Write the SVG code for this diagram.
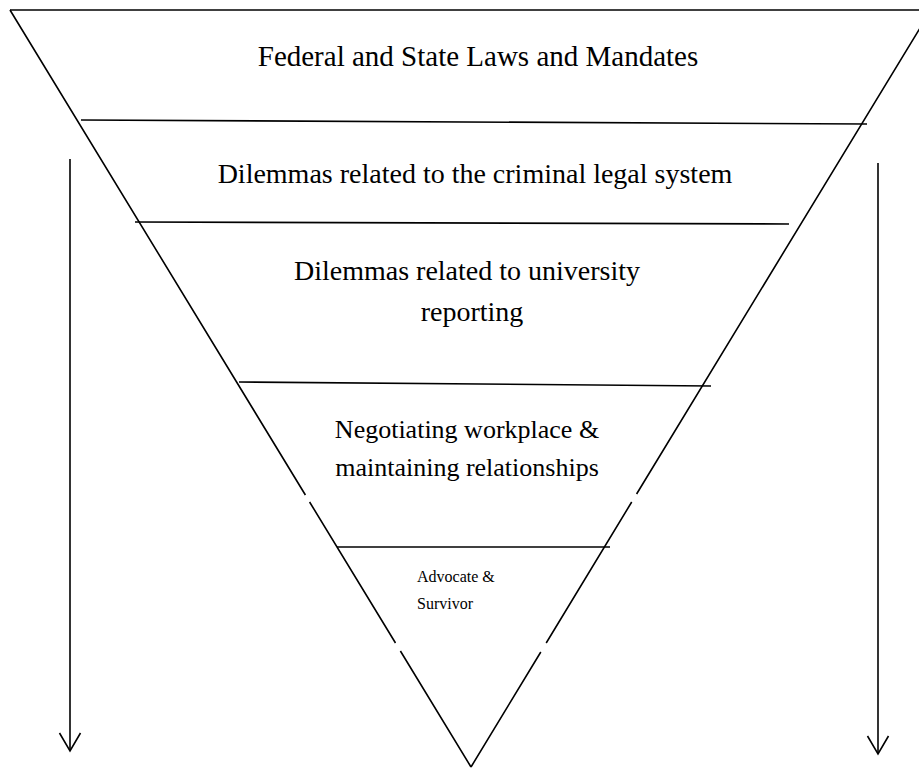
<svg xmlns="http://www.w3.org/2000/svg" width="919" height="768" viewBox="0 0 919 768">
  <style>
    .ln { stroke: #000; stroke-width: 1.6; fill: none; }
    .t { font-family: "Liberation Serif", "Times New Roman", serif; fill: #000; }
    .big { font-size: 28px; text-anchor: middle; }
    .mid { font-size: 26px; text-anchor: middle; }
    .small { font-size: 16px; }
  </style>
  <defs>
    <!-- open chevron head, drawn along +x so orient="auto" points it down the line -->
    <marker id="openHead" markerWidth="24" markerHeight="24" refX="20" refY="12" markerUnits="userSpaceOnUse" orient="auto" viewBox="0 0 24 24">
      <path d="M2 1.5 L20 12 L2 22.5" fill="none" stroke="#000" stroke-width="1.6"/>
    </marker>
  </defs>

  <rect width="919" height="768" fill="#fff"/>

  <!-- inverted triangle outline, sides broken in two places each -->
  <g id="funnel">
    <path class="ln" d="M931 10 L10 10"/>
    <path class="ln" d="M10 10 L305.4 495 M309.6 502 L395.5 643 M400.4 651 L471 767"/>
    <path class="ln" d="M931 10 L636.6 494 M631.7 502 L546.2 643 M540.8 652 L471 767"/>
  </g>

  <!-- tier dividers -->
  <g id="dividers">
    <line class="ln" x1="81" y1="120" x2="867" y2="124"/>
    <line class="ln" x1="135" y1="222" x2="789" y2="224"/>
    <line class="ln" x1="239" y1="382" x2="711" y2="386"/>
    <line class="ln" x1="337" y1="547" x2="610" y2="547"/>
  </g>

  <g id="tier-laws">
    <text class="t big" x="478" y="66" style="font-size:29px">Federal and State Laws and Mandates</text>
  </g>
  <g id="tier-criminal">
    <text class="t big" x="475" y="183">Dilemmas related to the criminal legal system</text>
  </g>
  <g id="tier-university">
    <text class="t big" x="467" y="280">Dilemmas related to university</text>
    <text class="t big" x="472" y="321">reporting</text>
  </g>
  <g id="tier-workplace">
    <text class="t mid" x="467" y="438">Negotiating workplace &amp;</text>
    <text class="t mid" x="467" y="476">maintaining relationships</text>
  </g>
  <g id="tier-core">
    <text class="t small" x="417" y="582">Advocate &amp;</text>
    <text class="t small" x="417" y="609">Survivor</text>
  </g>

  <!-- side arrows -->
  <g id="connectors">
    <line class="ln" x1="70" y1="159" x2="70" y2="751" marker-end="url(#openHead)"/>
    <line class="ln" x1="878" y1="163" x2="878" y2="754" marker-end="url(#openHead)"/>
  </g>
</svg>
